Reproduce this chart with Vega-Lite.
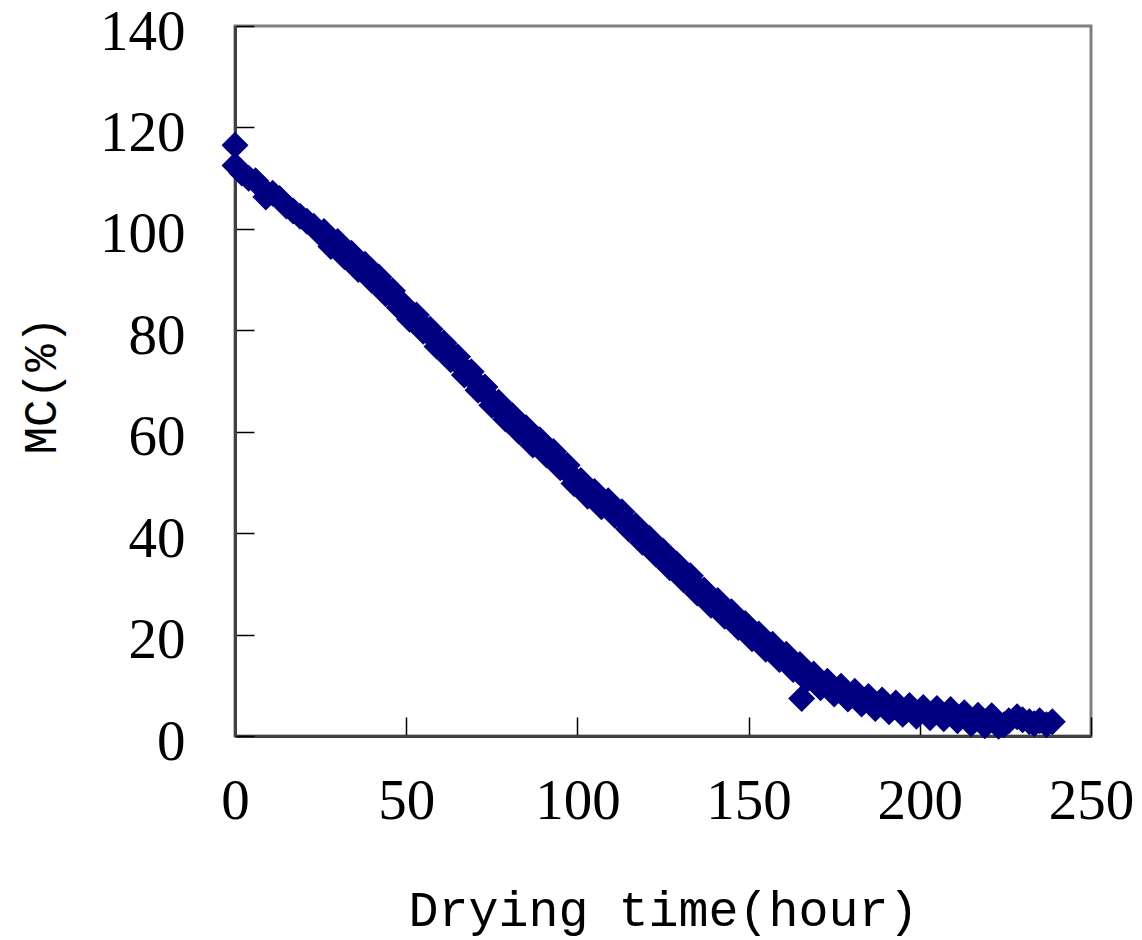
{
  "$schema": "https://vega.github.io/schema/vega-lite/v6.json",
  "autosize": "none",
  "width": 856,
  "height": 710,
  "padding": {"left": 235, "top": 26, "right": 51, "bottom": 204},
  "background": "white",
  "config": {
    "view": {"stroke": "#808080", "strokeWidth": 3},
    "axis": {
      "grid": false,
      "labelFont": "Liberation Serif",
      "labelFontSize": 57,
      "labelColor": "#000000",
      "tickColor": "#000000",
      "tickSize": -19,
      "tickWidth": 1.5,
      "domainColor": "#404040",
      "domainWidth": 3,
      "titleFont": "Liberation Mono",
      "titleFontWeight": "normal",
      "titleColor": "#000000"
    }
  },
  "data": {
    "values": [
      {"t": 0, "mc": 116.5}, {"t": 0, "mc": 112.5}, {"t": 2, "mc": 111}, {"t": 4, "mc": 110}, {"t": 6, "mc": 109.5},
      {"t": 8, "mc": 108}, {"t": 9, "mc": 106.3}, {"t": 11, "mc": 107}, {"t": 13, "mc": 106}, {"t": 15, "mc": 104.5},
      {"t": 17, "mc": 103.5}, {"t": 19, "mc": 102.5}, {"t": 21, "mc": 101.5}, {"t": 23, "mc": 100.5}, {"t": 25, "mc": 99},
      {"t": 26, "mc": 99.5}, {"t": 27, "mc": 98}, {"t": 28, "mc": 96.5}, {"t": 29, "mc": 97}, {"t": 30, "mc": 97.5},
      {"t": 31, "mc": 96}, {"t": 32, "mc": 94.5}, {"t": 33, "mc": 95}, {"t": 34, "mc": 95.2}, {"t": 35, "mc": 93.5},
      {"t": 36, "mc": 92}, {"t": 37, "mc": 92.5}, {"t": 38, "mc": 93}, {"t": 39, "mc": 91.5}, {"t": 40, "mc": 89.8},
      {"t": 41, "mc": 90}, {"t": 42, "mc": 90.5}, {"t": 43, "mc": 89}, {"t": 44, "mc": 87.2}, {"t": 45, "mc": 87.5},
      {"t": 46, "mc": 87.8}, {"t": 47, "mc": 86}, {"t": 48, "mc": 84.5}, {"t": 49, "mc": 85.2}, {"t": 50, "mc": 84},
      {"t": 51, "mc": 82.2}, {"t": 52, "mc": 82.5}, {"t": 53, "mc": 83}, {"t": 54, "mc": 81.5}, {"t": 55, "mc": 79.8},
      {"t": 56, "mc": 80}, {"t": 57, "mc": 80.2}, {"t": 58, "mc": 78.5}, {"t": 59, "mc": 76.8}, {"t": 60, "mc": 77},
      {"t": 61, "mc": 77.5}, {"t": 62, "mc": 76}, {"t": 63, "mc": 74.2}, {"t": 64, "mc": 74.5}, {"t": 65, "mc": 74.8},
      {"t": 66, "mc": 73}, {"t": 67, "mc": 71.2}, {"t": 68, "mc": 71.5}, {"t": 69, "mc": 71.8}, {"t": 70, "mc": 70},
      {"t": 71, "mc": 68.2}, {"t": 72, "mc": 68.5}, {"t": 73, "mc": 68.8}, {"t": 74, "mc": 67}, {"t": 75, "mc": 65.2},
      {"t": 76, "mc": 65.5}, {"t": 77, "mc": 65.8}, {"t": 78, "mc": 64}, {"t": 79, "mc": 62.5}, {"t": 80, "mc": 63},
      {"t": 81, "mc": 63.2}, {"t": 82, "mc": 61.5}, {"t": 83, "mc": 60}, {"t": 84, "mc": 60.5}, {"t": 85, "mc": 60.8},
      {"t": 86, "mc": 59}, {"t": 87, "mc": 57.4}, {"t": 88, "mc": 57.8}, {"t": 89, "mc": 58.4}, {"t": 90, "mc": 57},
      {"t": 91, "mc": 55.4}, {"t": 92, "mc": 55.7}, {"t": 93, "mc": 56.1}, {"t": 94, "mc": 54.5}, {"t": 95, "mc": 52.9},
      {"t": 96, "mc": 53.3}, {"t": 97, "mc": 53.4}, {"t": 98, "mc": 51.5}, {"t": 99, "mc": 49.8}, {"t": 100, "mc": 50},
      {"t": 101, "mc": 50.4}, {"t": 102, "mc": 48.8}, {"t": 103, "mc": 47.3}, {"t": 104, "mc": 47.8}, {"t": 105, "mc": 48.2},
      {"t": 106, "mc": 46.6}, {"t": 107, "mc": 45.2}, {"t": 108, "mc": 45.8}, {"t": 109, "mc": 46.4}, {"t": 110, "mc": 45},
      {"t": 111, "mc": 43.5}, {"t": 112, "mc": 44}, {"t": 113, "mc": 44.2}, {"t": 114, "mc": 42.5}, {"t": 115, "mc": 40.8},
      {"t": 116, "mc": 41}, {"t": 117, "mc": 41.5}, {"t": 118, "mc": 40}, {"t": 119, "mc": 38.2}, {"t": 120, "mc": 38.5},
      {"t": 121, "mc": 39}, {"t": 122, "mc": 37.5}, {"t": 123, "mc": 35.8}, {"t": 124, "mc": 36}, {"t": 125, "mc": 36.5},
      {"t": 126, "mc": 35}, {"t": 127, "mc": 33.2}, {"t": 128, "mc": 33.5}, {"t": 129, "mc": 33.9}, {"t": 130, "mc": 32.3},
      {"t": 131, "mc": 30.8}, {"t": 132, "mc": 31.2}, {"t": 133, "mc": 31.6}, {"t": 134, "mc": 30}, {"t": 135, "mc": 28.2},
      {"t": 136, "mc": 28.4}, {"t": 137, "mc": 28.8}, {"t": 138, "mc": 27.3}, {"t": 139, "mc": 25.8}, {"t": 140, "mc": 26.3},
      {"t": 141, "mc": 26.7}, {"t": 142, "mc": 25.2}, {"t": 143, "mc": 23.6}, {"t": 144, "mc": 24}, {"t": 145, "mc": 24.5},
      {"t": 146, "mc": 23}, {"t": 147, "mc": 21.4}, {"t": 148, "mc": 21.8}, {"t": 149, "mc": 22.2}, {"t": 150, "mc": 20.7},
      {"t": 151, "mc": 19.2}, {"t": 152, "mc": 19.6}, {"t": 153, "mc": 20.1}, {"t": 154, "mc": 18.6}, {"t": 155, "mc": 17.1},
      {"t": 156, "mc": 17.6}, {"t": 157, "mc": 18.1}, {"t": 158, "mc": 16.6}, {"t": 159, "mc": 15.1}, {"t": 160, "mc": 15.6},
      {"t": 161, "mc": 16.1}, {"t": 162, "mc": 14.6}, {"t": 163, "mc": 13.1}, {"t": 164, "mc": 13.6}, {"t": 165, "mc": 14.1},
      {"t": 165.5, "mc": 7.4}, {"t": 166, "mc": 12.6}, {"t": 167, "mc": 11.1}, {"t": 168, "mc": 11.6}, {"t": 169, "mc": 12.2},
      {"t": 170, "mc": 10.8}, {"t": 171, "mc": 9.5}, {"t": 172, "mc": 10.2}, {"t": 173, "mc": 10.8}, {"t": 174, "mc": 9.5},
      {"t": 175, "mc": 8.3}, {"t": 176, "mc": 9}, {"t": 177, "mc": 9.8}, {"t": 178, "mc": 8.5}, {"t": 179, "mc": 7.3},
      {"t": 180, "mc": 8}, {"t": 181, "mc": 8.8}, {"t": 182, "mc": 7.5}, {"t": 183, "mc": 6.3}, {"t": 184, "mc": 7},
      {"t": 185, "mc": 7.8}, {"t": 186, "mc": 6.5}, {"t": 187, "mc": 5.4}, {"t": 188, "mc": 6.3}, {"t": 189, "mc": 7.1},
      {"t": 190, "mc": 6}, {"t": 191, "mc": 4.8}, {"t": 192, "mc": 5.5}, {"t": 193, "mc": 6.5}, {"t": 194, "mc": 5.5},
      {"t": 195, "mc": 4.3}, {"t": 196, "mc": 5}, {"t": 197, "mc": 6}, {"t": 198, "mc": 5}, {"t": 199, "mc": 3.9},
      {"t": 200, "mc": 4.8}, {"t": 201, "mc": 5.6}, {"t": 202, "mc": 4.5}, {"t": 203, "mc": 3.6}, {"t": 204, "mc": 4.6},
      {"t": 205, "mc": 5.4}, {"t": 206, "mc": 4.3}, {"t": 207, "mc": 3.4}, {"t": 208, "mc": 4.4}, {"t": 209, "mc": 5.2},
      {"t": 210, "mc": 4}, {"t": 211, "mc": 3}, {"t": 212, "mc": 3.8}, {"t": 213, "mc": 4.6}, {"t": 214, "mc": 3.5},
      {"t": 215, "mc": 2.4}, {"t": 216, "mc": 3.2}, {"t": 217, "mc": 4.1}, {"t": 218, "mc": 3}, {"t": 219, "mc": 2},
      {"t": 220, "mc": 3}, {"t": 221, "mc": 4}, {"t": 222, "mc": 2.8}, {"t": 223, "mc": 1.9},
      {"t": 224.6, "mc": 2.2}, {"t": 226, "mc": 3}, {"t": 228.4, "mc": 3.8}, {"t": 230, "mc": 3.2}, {"t": 232, "mc": 2.8},
      {"t": 233.4, "mc": 2.4}, {"t": 235, "mc": 3}, {"t": 237, "mc": 2.2}, {"t": 238.7, "mc": 2.8}
    ]
  },
  "mark": {"type": "point", "shape": "diamond", "filled": true, "size": 730, "color": "#000080", "opacity": 1, "clip": false},
  "encoding": {
    "x": {
      "field": "t", "type": "quantitative",
      "scale": {"domain": [0, 250], "nice": false, "zero": true},
      "axis": {"values": [0, 50, 100, 150, 200, 250], "title": "Drying time(hour)", "titleFontSize": 50,
               "labelPadding": 56, "titleY": 174, "titleBaseline": "middle", "labelFlush": false}
    },
    "y": {
      "field": "mc", "type": "quantitative",
      "scale": {"domain": [0, 140], "nice": false},
      "axis": {"values": [0, 20, 40, 60, 80, 100, 120, 140], "title": "MC(%)", "titleFontSize": 46,
               "labelPadding": 69, "labelOffset": 6, "titleX": -194, "titleY": 359, "titleBaseline": "middle", "titleAlign": "center", "titleAngle": -90}
    }
  }
}
